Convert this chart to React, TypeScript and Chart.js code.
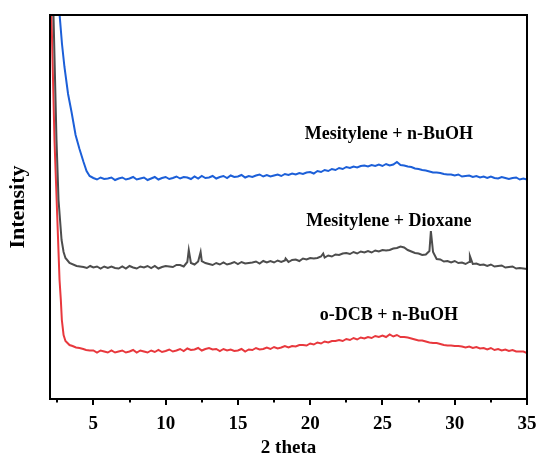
import React, { useEffect, useRef } from "react";
import { Chart, registerables } from "chart.js";

Chart.register(...registerables);

// Shared 2-theta grid for the flat/hump part of every pattern
const thetaGrid = [5,5.25,5.5,5.75,6,6.25,6.5,6.75,7,7.25,7.5,7.75,8,8.25,8.5,8.75,9,9.25,9.5,9.75,10,10.25,10.5,10.75,11,11.25,11.5,11.75,12,12.25,12.5,12.75,13,13.25,13.5,13.75,14,14.25,14.5,14.75,15,15.25,15.5,15.75,16,16.25,16.5,16.75,17,17.25,17.5,17.75,18,18.25,18.5,18.75,19,19.25,19.5,19.75,20,20.25,20.5,20.75,21,21.25,21.5,21.75,22,22.25,22.5,22.75,23,23.25,23.5,23.75,24,24.25,24.5,24.75,25,25.25,25.5,25.75,26,26.25,26.5,26.75,27,27.25,27.5,27.75,28,28.25,28.5,28.75,29,29.25,29.5,29.75,30,30.25,30.5,30.75,31,31.25,31.5,31.75,32,32.25,32.5,32.75,33,33.25,33.5,33.75,34,34.25,34.5,34.75,35];

// Mesitylene + n-BuOH (blue)
const blueDropX = [2.4, 2.66, 2.83, 3.0, 3.25, 3.49, 3.77, 4.04, 4.32, 4.53, 4.74];
const blueDropY = [440, 385, 355, 332, 305, 287, 264, 250, 237, 228, 223];
const blueY = [
  221, 219.5, 221.5, 220,
  220.5, 221.5, 219, 220.5,
  221.5, 219.5, 220.5, 222,
  219.5, 220.5, 221.5, 219,
  220.5, 222, 219.5, 221,
  222, 220, 221, 222.5,
  220.5, 222, 221.5, 220,
  222.5, 220.5, 223, 221,
  221.5, 223, 220.5, 222,
  223, 221, 223.5, 222,
  222.5, 224, 221.5, 223,
  222, 223.5, 224.5, 222.5,
  224, 222.5, 223.5, 224.5,
  223, 225, 224, 225.5,
  224.5, 226, 225, 226.5,
  227, 225.5, 228, 227,
  229, 228, 230, 229,
  231, 230, 232, 231,
  232.5, 231.5, 233, 233.5,
  232.5, 234, 233, 234.5,
  233, 235, 233.5, 234.5,
  237, 234, 233.5, 232.5,
  232, 230.5, 230, 229,
  228.5, 227.5, 226.5, 226.5,
  226, 225, 224.5, 224.5,
  223.5, 224.5, 222.5, 223,
  223.5, 222, 223, 221.5,
  222.5, 221, 222.5, 221,
  220.5, 222, 221, 220,
  221, 221.5, 219.5, 220.5,
  219.5,
];

// Mesitylene + Dioxane (grey)
const grayDropX = [2.05, 2.24, 2.45, 2.59, 2.8, 2.94, 3.07, 3.35, 3.84, 4.32, 4.55, 4.78];
const grayDropY = [480, 385, 259, 199, 159, 147, 141, 136, 133, 132, 131, 133];
const grayY = [
  131.5, 132.5, 130.5, 132.5,
  131, 132.5, 131, 130.5,
  132.5, 130.5, 133, 131.5,
  130.5, 132.5, 131.5, 133,
  131, 133, 130.5, 132,
  133, 132.5, 132, 134,
  134, 132.5, 137, 136,
  134.5, 137.5, 138, 136,
  135, 134, 136, 134.5,
  136.5, 134.5, 135.5, 137,
  135, 137, 135.5, 136,
  136.5, 137.5, 135.5, 138,
  136.5, 138, 136.5, 138.5,
  137, 138.5, 137, 139,
  139.5, 138, 140.5, 139.5,
  141, 140.5, 141, 142.5,
  141.5, 143.5, 142.5, 144.5,
  144, 145.5, 146, 145,
  147, 145.5, 147.5, 146.5,
  148, 146.5, 148.5, 147.5,
  149, 148.5, 149, 150.5,
  151, 152.5, 151.5, 149,
  147.5, 146, 145.5, 144,
  144.5, 148, 147, 140,
  139.5, 137.5, 138, 136.5,
  138, 136, 136.5, 135,
  137, 135, 135.5, 134,
  134.5, 133, 134.5, 132.5,
  133, 133.5, 131.5, 132,
  132.5, 130.5, 131, 130.5,
  130,
];
const grayPeakX = [11.6, 12.42, 18.3, 20.9, 28.35, 31.05];
const grayPeakY = [149, 147, 140.5, 145.5, 168, 143];

// o-DCB + n-BuOH (red)
const redDropX = [2.0, 2.1, 2.31, 2.66, 2.75, 2.82, 2.94, 3.07, 3.35, 3.56, 3.8, 4.04, 4.3, 4.5, 4.74];
const redDropY = [470, 385, 259, 119, 99, 79, 64, 58, 54, 53, 51.5, 51, 50, 49, 48.5];
const redY = [
  48.5, 46.5, 48.5, 47.5,
  46.5, 48.5, 46.5, 47.5,
  48.5, 46.5, 47.5, 49,
  46.5, 48.5, 47.5, 46.5,
  48.5, 47, 49, 47,
  48, 49.5, 47.5, 48.5,
  50, 48, 50.5, 49,
  49.5, 51, 48.5, 50,
  51, 49.5, 50, 48,
  50, 48.5, 49.5, 48,
  48.5, 50, 47.5, 49.5,
  49, 51, 49.5, 50,
  51.5, 50, 52, 50.5,
  51.5, 53, 51.5, 53,
  52.5, 54, 54, 53.5,
  55.5, 54.5, 56.5, 55.5,
  57.5, 56.5, 58, 58,
  59, 58, 60, 59,
  61, 59.5, 61.5, 60.5,
  62, 61, 63, 62,
  63.5, 62, 64.5, 62.5,
  64, 62, 62, 61.5,
  60.5, 59.5, 58.5, 58.5,
  57.5, 56.5, 56, 56,
  55, 54, 53.5, 53.5,
  53, 53, 52.5, 51.5,
  52.5, 51, 52, 50.5,
  51, 49.5, 51, 49,
  50, 48.5, 49.5, 48,
  49, 47.5, 47.5, 47.5,
  46,
];

// Axis ticks
const majorTicks = [5, 10, 15, 20, 25, 30, 35];
const minorTicks = [2.5, 7.5, 12.5, 17.5, 22.5, 27.5, 32.5];

// Curve labels (x in 2-theta, y = baseline in intensity units)
const labelTexts = ["Mesitylene + n-BuOH", "Mesitylene + Dioxane", "o-DCB + n-BuOH"];
const labelX = [25.45, 25.45, 25.45];
const labelY = [260, 173, 79];

const seriesNames = ["Mesitylene + n-BuOH", "Mesitylene + Dioxane", "o-DCB + n-BuOH"];
const seriesColors = ["#1c5fd8", "#4d4d4d", "#e8383d"];

const FONT = "'Liberation Serif', 'Times New Roman', serif";

function buildPoints(xs1: number[], ys1: number[], xs2: number[], ys2: number[], xs3: number[] = [], ys3: number[] = []) {
  const pts: { x: number; y: number }[] = [];
  xs1.forEach((x, i) => pts.push({ x, y: ys1[i] }));
  xs2.forEach((x, i) => pts.push({ x, y: ys2[i] }));
  xs3.forEach((x, i) => pts.push({ x, y: ys3[i] }));
  pts.sort((a, b) => a.x - b.x);
  return pts;
}

const framePlugin = {
  id: "frameAndLabels",
  afterDatasetsDraw(chart: any) {
    const { ctx, chartArea: a, scales } = chart;
    ctx.save();
    ctx.strokeStyle = "#000";
    ctx.lineWidth = 2;
    ctx.strokeRect(a.left, a.top, a.right - a.left, a.bottom - a.top);
    majorTicks.forEach((v) => {
      const px = Math.round(scales.x.getPixelForValue(v));
      ctx.beginPath();
      ctx.moveTo(px, a.bottom);
      ctx.lineTo(px, a.bottom + 6);
      ctx.stroke();
    });
    minorTicks.forEach((v) => {
      const px = Math.round(scales.x.getPixelForValue(v));
      ctx.beginPath();
      ctx.moveTo(px, a.bottom);
      ctx.lineTo(px, a.bottom + 3.5);
      ctx.stroke();
    });
    ctx.fillStyle = "#000";
    ctx.font = `bold 18px ${FONT}`;
    ctx.textAlign = "center";
    ctx.textBaseline = "alphabetic";
    labelTexts.forEach((t, i) => {
      ctx.fillText(t, scales.x.getPixelForValue(labelX[i]), scales.y.getPixelForValue(labelY[i]));
    });
    ctx.restore();
  },
};

export default function App() {
  const ref = useRef<HTMLCanvasElement | null>(null);

  useEffect(() => {
    if (!ref.current) return;
    const datasets = [
      buildPoints(blueDropX, blueDropY, thetaGrid, blueY),
      buildPoints(grayDropX, grayDropY, thetaGrid, grayY, grayPeakX, grayPeakY),
      buildPoints(redDropX, redDropY, thetaGrid, redY),
    ].map((data, i) => ({
      label: seriesNames[i],
      data,
      borderColor: seriesColors[i],
      backgroundColor: seriesColors[i],
      borderWidth: 2,
      pointRadius: 0,
      tension: 0,
      fill: false,
    }));

    const chart = new Chart(ref.current, {
      type: "line",
      data: { datasets },
      options: {
        animation: false,
        responsive: false,
        devicePixelRatio: 1,
        layout: { padding: { top: 15, right: 12, left: 0, bottom: 0 } },
        plugins: { legend: { display: false }, tooltip: { enabled: false } },
        scales: {
          x: {
            type: "linear",
            min: 2,
            max: 35,
            afterBuildTicks: (s: any) => {
              s.ticks = majorTicks.map((v) => ({ value: v }));
            },
            afterFit: (s: any) => {
              s.height = 60;
              s.paddingLeft = 0;
              s.paddingRight = 0;
            },
            grid: { display: false },
            border: { display: false },
            ticks: {
              color: "#000",
              font: { family: FONT, size: 19, weight: "bold" },
              padding: 6,
              maxRotation: 0,
              autoSkip: false,
            },
            title: {
              display: true,
              text: "2 theta",
              color: "#000",
              font: { family: FONT, size: 19, weight: "bold" },
              padding: { top: 0, bottom: 0 },
            },
          },
          y: {
            type: "linear",
            min: 0,
            max: 384,
            afterFit: (s: any) => {
              s.width = 50;
              s.paddingTop = 0;
              s.paddingBottom = 0;
            },
            grid: { display: false },
            border: { display: false },
            ticks: { display: false },
            title: {
              display: true,
              text: "Intensity",
              color: "#000",
              font: { family: FONT, size: 22, weight: "bold" },
              padding: { top: 5, bottom: 0 },
            },
          },
        },
      } as any,
      plugins: [framePlugin],
    });
    return () => chart.destroy();
  }, []);

  return (
    <div style={{ position: "fixed", left: 0, top: 0, width: 539, height: 459, background: "#fff" }}>
      <canvas ref={ref} width={539} height={459} style={{ width: 539, height: 459, display: "block" }} />
    </div>
  );
}
